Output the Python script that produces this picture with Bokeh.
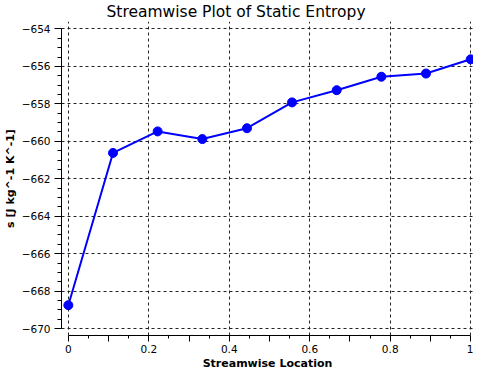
from bokeh.plotting import figure
from bokeh.models import Range1d, FixedTicker, SingleIntervalTicker
from bokeh.embed import file_html
from bokeh.resources import INLINE

# ---- data ----
location = [0.0, 0.111, 0.222, 0.333, 0.444, 0.556, 0.667, 0.778, 0.889, 1.0]
entropy = [-668.75, -660.62, -659.47, -659.88, -659.30, -657.92, -657.27, -656.55, -656.38, -655.62]

x_ticks = [0.0, 0.1, 0.2, 0.3, 0.4, 0.5, 0.6, 0.7, 0.8, 0.9, 1.0]
x_tick_labels = ["0", "", "0.2", "", "0.4", "", "0.6", "", "0.8", "", "1"]
x_grid_ticks = [0.0, 0.2, 0.4, 0.6, 0.8, 1.0]
x_minor_ticks = [0.05, 0.15, 0.25, 0.35, 0.45, 0.55, 0.65, 0.75, 0.85, 0.95]
y_ticks = [-670, -668, -666, -664, -662, -660, -658, -656, -654]

title = "Streamwise Plot of Static Entropy"
x_label = "Streamwise Location"
y_label = "s [J kg^-1 K^-1]"

FONT = "DejaVu Sans"

p = figure(frame_width=412, frame_height=314, output_backend="svg", toolbar_location=None,
           x_range=Range1d(-0.017, 1.007), y_range=Range1d(-670.37, -653.6),
           min_border_left=48, min_border_right=0, min_border_top=0, min_border_bottom=0)

p.title.text = title
p.title.text_font = FONT
p.title.text_font_size = "15.5px"
p.title.text_font_style = "normal"
p.title.align = "left"
p.title.offset = 45
p.title.standoff = 1
p.title.text_color = "black"

p.outline_line_color = None
p.background_fill_color = "white"
p.border_fill_color = "white"

# x axis
xa = p.xaxis[0]
xa.ticker = FixedTicker(ticks=x_ticks, minor_ticks=x_minor_ticks)
xa.major_label_overrides = {t: l for t, l in zip(x_ticks, x_tick_labels)}
xa.bounds = (0, 1)
xa.axis_label = x_label
xa.axis_label_text_font = FONT
xa.axis_label_text_font_style = "bold"
xa.axis_label_text_font_size = "11px"
xa.axis_label_text_color = "black"
xa.axis_label_standoff = 1
xa.major_label_text_font = FONT
xa.major_label_text_font_size = "10.5px"
xa.major_label_text_color = "black"
xa.major_label_standoff = 3
xa.major_tick_out = 6
xa.major_tick_in = 0
xa.minor_tick_out = 3
xa.minor_tick_in = 0
xa.axis_line_color = "black"

# y axis
ya = p.yaxis[0]
ya.ticker = SingleIntervalTicker(interval=2, num_minor_ticks=4)
ya.bounds = (-670, -654)
ya.axis_label = y_label
ya.axis_label_text_font = FONT
ya.axis_label_text_font_style = "bold"
ya.axis_label_text_font_size = "11px"
ya.axis_label_text_color = "black"
ya.axis_label_standoff = 2
ya.major_label_text_font = FONT
ya.major_label_text_font_size = "10.5px"
ya.major_label_text_color = "black"
ya.major_label_standoff = 4
ya.major_tick_out = 7
ya.major_tick_in = 0
ya.minor_tick_out = 4
ya.minor_tick_in = 0
ya.axis_line_color = "black"

# grids
p.xgrid.ticker = FixedTicker(ticks=x_grid_ticks)
p.ygrid.ticker = FixedTicker(ticks=y_ticks)
for g in (p.xgrid[0], p.ygrid[0]):
    g.grid_line_color = "#222222"
    g.grid_line_dash = "3 3"
    g.grid_line_width = 1

p.line(location, entropy, line_color="#0000ff", line_width=2)
p.scatter(location, entropy, size=9, fill_color="#0000ff", line_color="#0000ff")

open("out.html", "w").write(file_html(p, INLINE))
